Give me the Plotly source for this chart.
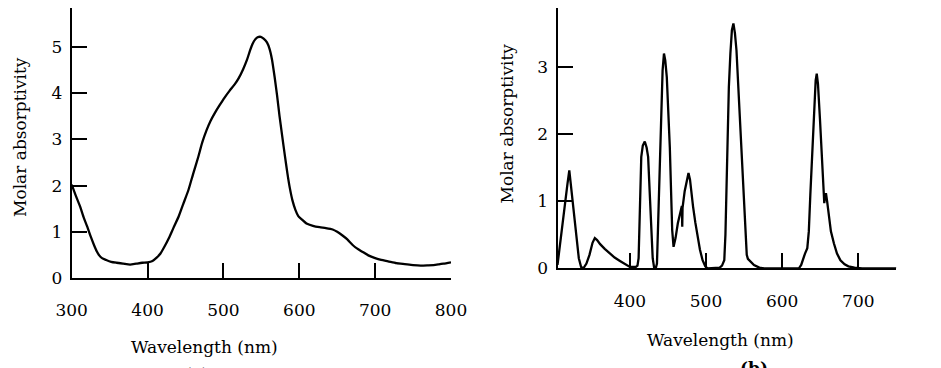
import plotly.graph_objects as go

# ---- Panel (a) data ----
wl_a = [300, 305, 311, 316, 320.5, 325, 329.5, 333, 336.3, 340, 345.4, 352, 359, 368, 377, 385,
        393, 400, 406.5, 412, 417, 422, 428, 434, 441, 447, 454, 460, 467, 472, 477.8, 483,
        488.6, 495, 501.3, 508, 514.8, 520, 526, 531, 535, 538.5, 541.7, 545, 549.3, 553,
        557.4, 561, 564, 567.5, 570.8, 574, 577.5, 581, 584.3, 587.5, 591, 595, 598.7, 604,
        609.5, 618, 626.8, 635, 644, 650, 657, 663, 670, 676, 683, 691, 700, 708, 717, 728,
        739, 750, 760, 770, 777, 784, 790, 800]
abs_a = [2.02, 1.8, 1.55, 1.3, 1.11, 0.9, 0.71, 0.58, 0.49, 0.43, 0.39, 0.35, 0.33, 0.31, 0.29, 0.31,
         0.33, 0.34, 0.37, 0.44, 0.53, 0.67, 0.86, 1.08, 1.33, 1.6, 1.91, 2.25, 2.63, 2.93, 3.2, 3.4,
         3.57, 3.74, 3.9, 4.05, 4.19, 4.32, 4.52, 4.72, 4.92, 5.07, 5.16, 5.21, 5.22, 5.18,
         5.1, 4.95, 4.73, 4.35, 3.94, 3.5, 3.07, 2.65, 2.27, 1.95, 1.68, 1.47, 1.34, 1.26,
         1.18, 1.13, 1.1, 1.08, 1.05, 1.0, 0.92, 0.84, 0.72, 0.64, 0.57, 0.49, 0.43, 0.39, 0.36, 0.32,
         0.3, 0.28, 0.27, 0.275, 0.28, 0.295, 0.31, 0.34]

# ---- Panel (b) data ----
wl_b = [305, 309, 313, 318, 320.5, 323, 328, 333, 336, 339, 343, 347, 351, 354, 357, 361, 367, 374,
        380, 387, 394, 400, 408, 410, 411.5, 413, 414, 415, 417, 419.6, 422, 424, 426, 428, 430,
        432, 434, 435.6, 437, 439, 441, 443, 444.8, 446.5, 448.5, 450.5, 452.5, 454, 455.6, 457.4,
        460, 463, 466, 468.3, 468.8, 469.2, 472, 475, 477, 479, 481, 483, 486, 489, 492, 495.5,
        499, 502, 510, 518, 521, 524, 525.5, 527, 528, 530, 532, 534, 536, 538, 540, 542, 544,
        546, 548, 550, 552, 553.5, 555, 559, 563, 570, 576, 600, 622, 625, 627, 630, 633, 635,
        637, 639.8, 642, 644, 645.4, 647, 649.7, 652, 654.5, 655.3, 656.5, 657.5, 659, 661.4,
        664, 668, 672, 676.5, 682, 687, 695, 705, 711, 720, 730, 740, 750]
abs_b = [0.05, 0.45, 0.8, 1.25, 1.46, 1.2, 0.65, 0.15, 0.02, 0.0, 0.07, 0.2, 0.38, 0.45, 0.42, 0.36, 0.29, 0.22,
         0.16, 0.11, 0.06, 0.02, 0.02, 0.04, 0.15, 0.7, 1.25, 1.66, 1.83, 1.89, 1.8, 1.66, 1.15, 0.57, 0.15,
         0.0, 0.0, 0.07, 0.6, 1.56, 2.35, 2.95, 3.2, 3.1, 2.85, 2.4, 1.8, 1.2, 0.57, 0.32,
         0.45, 0.67, 0.85, 0.93, 0.62, 0.9, 1.15, 1.35, 1.42, 1.32, 1.1, 0.92, 0.68, 0.47, 0.28, 0.12,
         0.03, 0.0, 0.0, 0.01, 0.04, 0.12, 0.5, 1.4, 2.0, 2.7, 3.2, 3.55, 3.65, 3.5, 3.25, 2.8, 2.4,
         1.95, 1.45, 0.95, 0.45, 0.2, 0.14, 0.09, 0.05, 0.01, 0.0, 0.0, 0.0, 0.05, 0.13, 0.22, 0.3, 0.55,
         1.1, 1.86, 2.4, 2.8, 2.9, 2.75, 2.21, 1.6, 1.0, 0.97, 1.08, 1.12, 1.0, 0.77,
         0.55, 0.37, 0.22, 0.12, 0.06, 0.03, 0.01, 0.0, 0.0, 0.0, 0.0, 0.0, 0.0]

xticks_a = [300, 400, 500, 600, 700, 800]
yticks_a = [0, 1, 2, 3, 4, 5, 6]
xticks_b = [400, 500, 600, 700]
yticks_b = [0, 1, 2, 3, 4]

FONT = "DejaVu Serif"
W, H = 941, 368
OFF = 8  # page body margin offset of the figure in the browser

fig = go.Figure()
fig.add_trace(go.Scatter(x=wl_a, y=abs_a, mode="lines", xaxis="x", yaxis="y",
                         line=dict(color="black", width=2.3, shape="spline", smoothing=0.6),
                         showlegend=False, hoverinfo="skip"))
fig.add_trace(go.Scatter(x=wl_b, y=abs_b, mode="lines", xaxis="x2", yaxis="y2",
                         line=dict(color="black", width=2.3),
                         showlegend=False, hoverinfo="skip"))

axis_common = dict(showline=True, linecolor="black", linewidth=2, showgrid=False, zeroline=False,
                   ticks="inside", ticklen=15, tickwidth=2, tickcolor="black", automargin=False,
                   ticklabeloverflow="allow",
                   tickfont=dict(family=FONT, size=17, color="black"), fixedrange=True)

# left panel geometry (screen px)
a_x0, a_x1 = 71.7 - OFF, 451 - OFF
a_y0 = 278 - OFF
a_ppu = 46.2
# right panel geometry
b_x0, b_x1 = 557.5 - OFF, 896.4 - OFF
b_y0 = 268.3 - OFF
b_ppu = 67.1

fig.update_layout(
    width=W, height=H, autosize=False,
    margin=dict(l=0, r=0, t=0, b=0, pad=0),
    paper_bgcolor="white", plot_bgcolor="white",
    xaxis=dict(domain=[a_x0 / W, a_x1 / W], range=[300, 800], tickvals=xticks_a,
               anchor="y", ticklabelstandoff=16, **axis_common),
    yaxis=dict(domain=[(H - a_y0) / H, 1], range=[0, a_y0 / a_ppu], tickvals=yticks_a,
               anchor="x", ticklabelstandoff=4, **axis_common),
    xaxis2=dict(domain=[b_x0 / W, b_x1 / W], range=[305, 750], tickvals=xticks_b,
                anchor="y2", ticklabelstandoff=16, **axis_common),
    yaxis2=dict(domain=[(H - b_y0) / H, 1], range=[0, b_y0 / b_ppu], tickvals=yticks_b,
                anchor="x2", ticklabelstandoff=4, **axis_common),
)

def ann(text, px, py, angle=0, bold=False):
    fig.add_annotation(x=(px - OFF) / W, y=1 - (py - OFF) / H, xref="paper", yref="paper",
                       text=("<b>%s</b>" % text) if bold else text, showarrow=False,
                       textangle=angle, xanchor="center", yanchor="middle",
                       font=dict(family=FONT, size=17, color="black"))

ann("Molar absorptivity", 20, 137, angle=-90)
ann("Molar absorptivity", 507, 123.5, angle=-90)
ann("Wavelength (nm)", 204, 347)
ann("Wavelength (nm)", 720, 340)
ann("(a)", 196, 374)
ann("(b)", 754, 368, bold=True)

fig.write_html("out.html")
